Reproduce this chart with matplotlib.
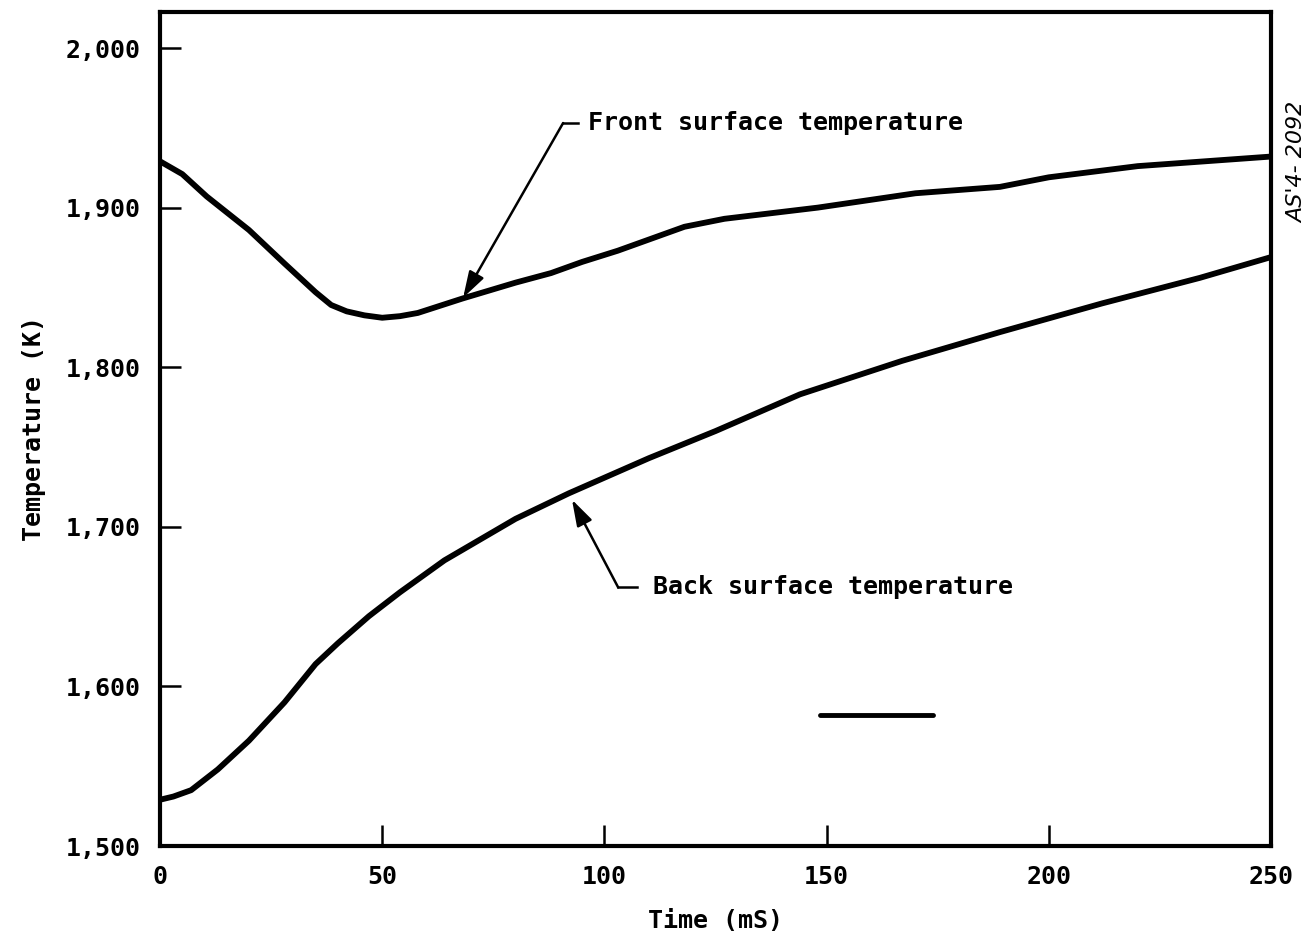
import numpy as np
import matplotlib
matplotlib.use("Agg")
import matplotlib.pyplot as plt

# front surface temperature (K) vs time (mS)
front_t = [0, 5, 10.5, 20, 28, 35, 38.5, 42, 46, 50, 54, 58, 68, 80, 88, 95,
           103, 110, 118, 127, 148, 170, 189, 200, 220, 235, 250]
front_T = [1929, 1921, 1907, 1886, 1865, 1847, 1839, 1835, 1832.5, 1831,
           1832, 1834, 1843, 1853, 1859, 1866, 1873, 1880, 1888, 1893, 1900,
           1909, 1913, 1919, 1926, 1929, 1932]

# back surface temperature
back_t = [0, 3, 7, 13, 20, 28, 35, 40, 47, 54, 64, 80, 92, 110, 125, 144,
          167, 189, 212, 234, 250]
back_T = [1529, 1531, 1535, 1548, 1566, 1590, 1614, 1627, 1644, 1659, 1679,
          1705, 1721, 1743, 1760, 1783, 1804, 1822, 1840, 1856, 1869]

# stray bar in the scan
mark_t = [148.5, 174]
mark_T = [1582, 1582]

x_ticks = [0, 50, 100, 150, 200, 250]
y_ticks = [1500, 1600, 1700, 1800, 1900, 2000]
y_labels = ["1,500", "1,600", "1,700", "1,800", "1,900", "2,000"]

plt.rcParams["font.family"] = ["DejaVu Sans Mono"]
plt.rcParams["font.weight"] = "bold"
plt.rcParams["axes.labelweight"] = "bold"

fig = plt.figure(figsize=(13.13, 9.42), dpi=100)
ax = fig.add_axes([0.1219, 0.1019, 0.8461, 0.8854])

ax.plot(front_t, front_T, color="black", lw=4.2, solid_capstyle="round",
        solid_joinstyle="round")
ax.plot(back_t, back_T, color="black", lw=4.2, solid_capstyle="round",
        solid_joinstyle="round")
ax.plot(mark_t, mark_T, color="black", lw=3.5, solid_capstyle="round")

ax.set_xlim(0, 250)
ax.set_ylim(1500, 2022.6)
ax.set_xticks(x_ticks)
ax.set_yticks(y_ticks)
ax.set_yticklabels(y_labels)
ax.tick_params(direction="in", length=15, width=1.8, labelsize=18, pad=14)
for s in ax.spines.values():
    s.set_linewidth(3)

ax.set_xlabel("Time (mS)", fontsize=18, labelpad=14)
ax.set_ylabel("Temperature (K)", fontsize=18, labelpad=14)

arrow = dict(arrowstyle="-|>,head_length=0.8,head_width=0.25", color="black",
             lw=1.8, mutation_scale=20, shrinkA=0, shrinkB=0)

# front label
ax.annotate("", xy=(68.2, 1843.6), xytext=(90.7, 1953), arrowprops=arrow)
ax.plot([90.7, 94], [1953, 1953], color="black", lw=1.8)
ax.text(96.3, 1953, "Front surface temperature", fontsize=18, va="center")

# back label
ax.annotate("", xy=(92.7, 1717), xytext=(103.1, 1662), arrowprops=arrow)
ax.plot([103.1, 107.3], [1662, 1662], color="black", lw=1.8)
ax.text(110.9, 1662, "Back surface temperature", fontsize=18, va="center")

fig.text(0.988, 0.828, "AS'4- 2092", rotation=90, ha="center", va="center",
         fontsize=16, family="DejaVu Sans", style="italic", weight="normal")

fig.savefig("out.png", dpi=100)
